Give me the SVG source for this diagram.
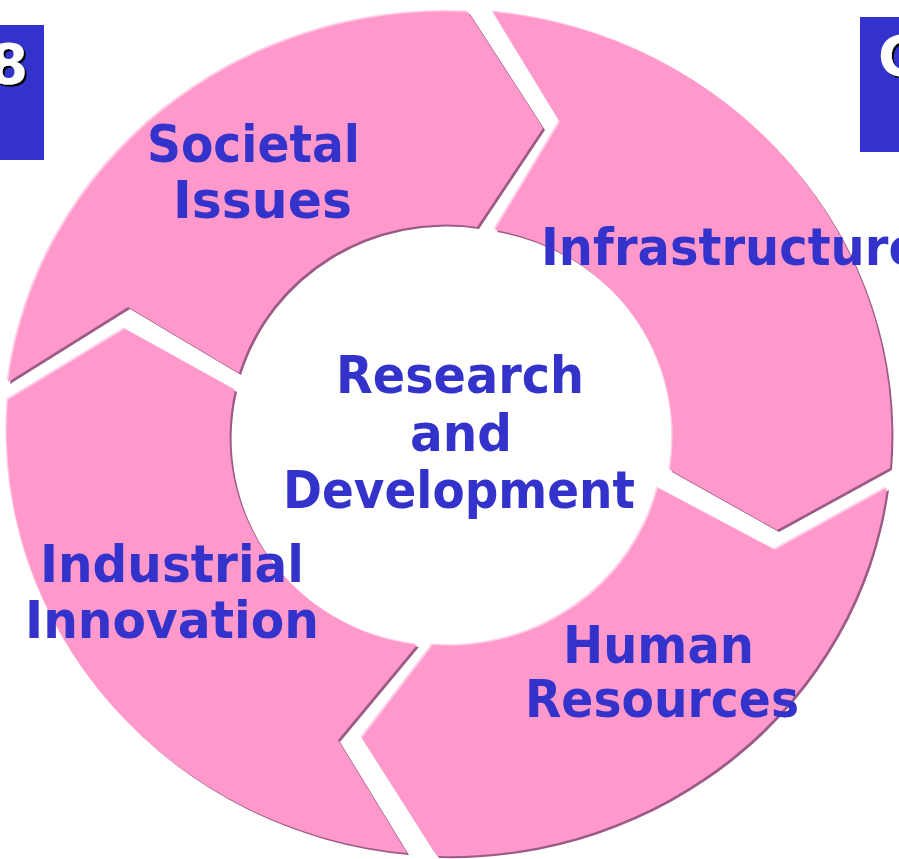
<svg xmlns="http://www.w3.org/2000/svg" width="899" height="859" viewBox="0 0 899 859">
<style>
.lbl{font-family:"DejaVu Sans",Verdana,sans-serif;font-weight:bold;font-size:51px;fill:#3333CC}
.seg{fill:#FF99CC}
.sh{fill:#9C5A86}
.hl{fill:#FFCAE5}
.box{fill:#3333CC}
.num{font-family:"DejaVu Sans",sans-serif;font-weight:bold;font-size:56px;fill:#FFFFFF;filter:url(#ds)}
</style>
<defs>
<filter id="ds" x="-20%" y="-20%" width="150%" height="150%">
<feOffset in="SourceAlpha" dx="2" dy="2" result="o"/>
<feFlood flood-color="#000000"/>
<feComposite in2="o" operator="in" result="s"/>
<feMerge><feMergeNode in="s"/><feMergeNode in="SourceGraphic"/></feMerge>
</filter>
<path id="p-soc" d="M 8,382 A 442,424 0 0 1 468,12 L 543,128 L 477,227 A 215,210 0 0 0 239,373 L 128,307 Z"/>
<path id="p-inf" d="M 493,12 A 442,424 0 0 1 890,468 L 777,530 L 670,470 A 215,210 0 0 0 495,230 L 560,122 Z"/>
<path id="p-hum" d="M 887,488 A 442,424 0 0 1 437,856 L 362,738 L 433,645 A 215,210 0 0 0 658,488 L 775,550 Z"/>
<path id="p-ind" d="M 407,853 A 442,424 0 0 1 8,400 L 125,329 L 235,390 A 215,210 0 0 0 417,645 L 338,740 Z"/>
</defs>
<g id="box-left">
<rect class="box" x="-10" y="25" width="54" height="135"/>
<text class="num" x="-11" y="83">8</text>
</g>
<g id="box-right">
<rect class="box" x="860" y="17" width="50" height="135"/>
<text class="num" x="878" y="75">C</text>
</g>
<g id="societal">
<use href="#p-soc" class="sh" transform="translate(2,2)"/>
<use href="#p-soc" class="hl" transform="translate(-1.5,-1.5)"/>
<use href="#p-soc" class="seg"/>
<text class="lbl" x="147" y="162" textLength="213" lengthAdjust="spacingAndGlyphs">Societal</text>
<text class="lbl" x="173" y="218" textLength="179" lengthAdjust="spacingAndGlyphs">Issues</text>
</g>
<g id="infrastructure">
<use href="#p-inf" class="sh" transform="translate(2,2)"/>
<use href="#p-inf" class="hl" transform="translate(-1.5,-1.5)"/>
<use href="#p-inf" class="seg"/>
<text class="lbl" x="541" y="265" textLength="380" lengthAdjust="spacingAndGlyphs">Infrastructure</text>
</g>
<g id="human-resources">
<use href="#p-hum" class="sh" transform="translate(2,2)"/>
<use href="#p-hum" class="hl" transform="translate(-1.5,-1.5)"/>
<use href="#p-hum" class="seg"/>
<text class="lbl" x="563" y="663" textLength="191" lengthAdjust="spacingAndGlyphs">Human</text>
<text class="lbl" x="525" y="717" textLength="274" lengthAdjust="spacingAndGlyphs">Resources</text>
</g>
<g id="industrial-innovation">
<use href="#p-ind" class="sh" transform="translate(2,2)"/>
<use href="#p-ind" class="hl" transform="translate(-1.5,-1.5)"/>
<use href="#p-ind" class="seg"/>
<text class="lbl" x="40" y="582" textLength="264" lengthAdjust="spacingAndGlyphs">Industrial</text>
<text class="lbl" x="25" y="638" textLength="294" lengthAdjust="spacingAndGlyphs">Innovation</text>
</g>
<g id="research-development">
<text class="lbl" x="336" y="393" textLength="248" lengthAdjust="spacingAndGlyphs">Research</text>
<text class="lbl" x="410" y="451" textLength="102" lengthAdjust="spacingAndGlyphs">and</text>
<text class="lbl" x="283" y="508" textLength="352" lengthAdjust="spacingAndGlyphs">Development</text>
</g>
</svg>
